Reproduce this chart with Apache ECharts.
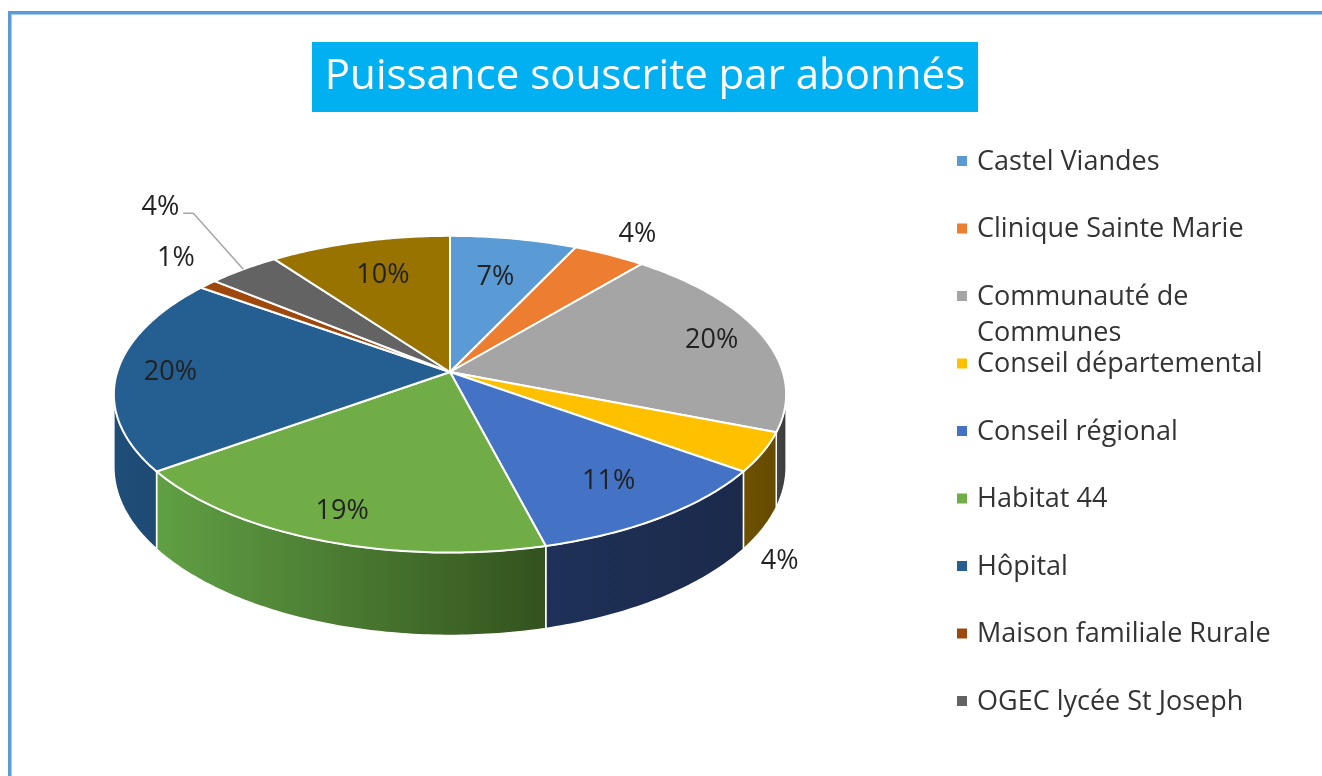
<!DOCTYPE html>
<html><head><meta charset="utf-8">
<script src="https://cdn.jsdelivr.net/npm/echarts@6/dist/echarts.min.js"></script>
<style>html,body{margin:0;padding:0;background:#fff}#c{width:1322px;height:776px}</style>
</head><body><div id="c"></div>
<script>
// ---- data ----
const chartTitle = 'Puissance souscrite par abonnés';
const categories = ['Castel Viandes','Clinique Sainte Marie','Communauté de Communes','Conseil départemental','Conseil régional','Habitat 44','Hôpital','Maison familiale Rurale','OGEC lycée St Joseph','Autre'];
const values = [7,4,20,4,11,19,20,1,4,10];
const legendCount = 9;

// ---- styles ----
const topColors = ['#5B9BD5','#ED7D31','#A5A5A5','#FFC000','#4472C4','#70AD47','#255E91','#9E480E','#636363','#997300'];
const wallColors = [['#3a6fa0','#2e5a85'],['#a9561e','#8a4515'],['#474747','#3a3a3a'],['#6e5200','#654a00'],['#1f3158','#1b2a4b'],['#60a044','#33521e'],['#1f4e79','#1e4a73'],['#6e320a','#6e320a'],['#444','#444'],['#6b5000','#6b5000']];
const labelMode = ['in','out','in','low','in','in','in','out','leader','in'];

// ---- 3D projection of the pie ----
const PJ = {cx:450, cy:372, k:2100, D:6.31, c:0.8845, s:0.4665, h:0.242};
function proj(thetaDeg, rho, Y){
  const t = thetaDeg*Math.PI/180;
  const X = rho*Math.sin(t), Z = rho*Math.cos(t);
  const w = PJ.D + Z*PJ.c;
  return [PJ.cx + PJ.k*X/w, PJ.cy - PJ.k*(Y*PJ.c + Z*PJ.s)/w];
}
const total = values.reduce((a,b)=>a+b,0);
const startAng = [], endAng = [];
let acc = 0;
values.forEach(v=>{ startAng.push(acc/total*360); acc += v; endAng.push(acc/total*360); });
const visA = 98, visB = 262;

function arcPts(a1, a2, rho, Y){
  const n = Math.max(2, Math.ceil(Math.abs(a2-a1)/0.8));
  const pts = [];
  for(let j=0;j<=n;j++) pts.push(proj(a1+(a2-a1)*j/n, rho, Y));
  return pts;
}

function renderWall(params, api){
  const i = params.dataIndex;
  const a1 = Math.max(startAng[i], visA), a2 = Math.min(endAng[i], visB);
  if (a2 <= a1) return null;
  const top = arcPts(a1, a2, 1, 0);
  const bot = arcPts(a1, a2, 1, -PJ.h).reverse();
  return {
    type:'polygon', silent:true,
    shape:{points: top.concat(bot)},
    style:{
      fill: new echarts.graphic.LinearGradient(0,0,1,0,[{offset:0,color:wallColors[i][0]},{offset:1,color:wallColors[i][1]}]),
      stroke:'#ffffff', lineWidth:1.5, lineJoin:'round'
    }
  };
}
function renderTop(params, api){
  const i = params.dataIndex;
  const pts = [proj(0,0,0)].concat(arcPts(startAng[i], endAng[i], 1, 0));
  return {
    type:'polygon', silent:true,
    shape:{points:pts},
    style:{fill: topColors[i], stroke:'#ffffff', lineWidth:2, lineJoin:'round'}
  };
}
const labelFont = {fontFamily:'Open Sans', fontSize:27, fill:'#222222'};
function renderLabel(params, api){
  const i = params.dataIndex;
  const mid = (startAng[i]+endAng[i])/2;
  const pct = values[i]/total*100;
  const txt = Math.round(pct) + '%';
  const mode = labelMode[i];
  const apex = proj(0,0,0);
  if (mode === 'leader'){
    const p1 = proj(mid, 1, 0);
    const p2 = [p1[0]-50, p1[1]-56];
    const p3 = [p2[0]-10, p2[1]];
    return {type:'group', silent:true, children:[
      {type:'polyline', shape:{points:[p1,p2,p3]}, style:{stroke:'#A6A6A6', lineWidth:1.5, fill:null}},
      {type:'text', x:p3[0]-4, y:p3[1]-6, style:Object.assign({text:txt, align:'right', verticalAlign:'middle'}, labelFont)}
    ]};
  }
  let p;
  if (mode === 'in') {
    const rim = proj(mid, 1, 0);
    const f = 0.64 + 0.01*pct;
    p = [apex[0] + f*(rim[0]-apex[0]), apex[1] + f*(rim[1]-apex[1])];
  }
  else if (mode === 'out') {
    p = proj(mid, 1.2, 0);
    if (mid > 180) p = [p[0]+12, p[1]-10];
  }
  else { p = proj(mid, 1.05, -PJ.h); p = [p[0], p[1]+28]; }
  return {type:'text', silent:true, x:p[0], y:p[1], style:Object.assign({text:txt, align:'center', verticalAlign:'middle'}, labelFont)};
}

// ---- legend & title & frame as graphics ----
const graphics = [];
graphics.push({type:'rect', silent:true, shape:{x:8,y:11,width:1314,height:3}, style:{fill:'#5B9BD5'}});
graphics.push({type:'rect', silent:true, shape:{x:11,y:14,width:1311,height:1}, style:{fill:'#A9CBEB'}});
graphics.push({type:'rect', silent:true, shape:{x:8,y:11,width:3,height:765}, style:{fill:'#5B9BD5'}});
graphics.push({type:'rect', silent:true, shape:{x:11,y:14,width:1,height:762}, style:{fill:'#A9CBEB'}});
graphics.push({type:'rect', silent:true, shape:{x:312,y:42,width:666,height:70}, style:{fill:'#00B0F0'}});
graphics.push({type:'text', silent:true, x:645, y:77, style:{text:chartTitle, fill:'#ffffff', fontFamily:'Open Sans', fontSize:42, align:'center', verticalAlign:'middle'}});
for (let i=0;i<legendCount;i++){
  const cy = 161 + i*67.5;
  const label = categories[i] === 'Communauté de Communes' ? 'Communauté de\nCommunes' : categories[i];
  graphics.push({type:'rect', silent:true, shape:{x:957,y:cy-5,width:10,height:10}, style:{fill:topColors[i]}});
  graphics.push({type:'text', silent:true, x:977, y:cy-17, style:{text:label, fill:'#333333', fontFamily:'Open Sans', fontSize:27, lineHeight:36, align:'left', verticalAlign:'top'}});
}

const seriesData = values.map((v,i)=>({name:categories[i], value:[i, v]}));
const chart = echarts.init(document.getElementById('c'), null, {renderer:'canvas'});
chart.setOption({
  animation:false,
  backgroundColor:'#ffffff',
  graphic: graphics,
  series:[
    {type:'custom', coordinateSystem:'none', renderItem:renderWall, data:seriesData, z:2, silent:true},
    {type:'custom', coordinateSystem:'none', renderItem:renderTop, data:seriesData, z:3, silent:true},
    {type:'custom', coordinateSystem:'none', renderItem:renderLabel, data:seriesData, z:4, silent:true}
  ]
});
</script></body></html>
